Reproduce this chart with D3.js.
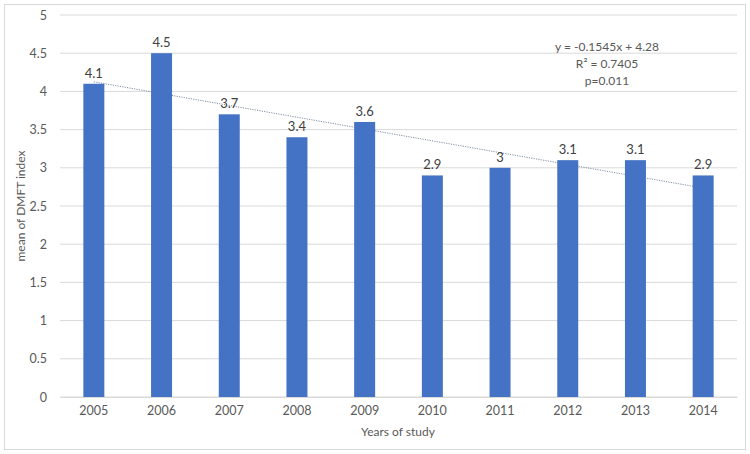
<!DOCTYPE html>
<html><head><meta charset="utf-8">
<script src="https://cdn.jsdelivr.net/npm/d3@7"></script>
<style>body{margin:0;background:#fff}text{font-family:Lato,"Open Sans",sans-serif;fill:#595959}</style>
</head><body><svg id="c" width="750" height="454"></svg>
<script>
const years = ["2005","2006","2007","2008","2009","2010","2011","2012","2013","2014"];
const dmft = [4.1,4.5,3.7,3.4,3.6,2.9,3,3.1,3.1,2.9];
const yTicks = [0,0.5,1,1.5,2,2.5,3,3.5,4,4.5,5];
const trendSlope = -0.1545, trendIntercept = 4.28;
const eqLines = ["y = -0.1545x + 4.28","R² = 0.7405","p=0.011"];

const svg = d3.select("#c");
svg.append("rect").attr("x",4.5).attr("y",4.5).attr("width",741).attr("height",445)
  .attr("fill","#fff").attr("stroke","#d9d9d9");

const x = d3.scaleBand().domain(years).range([60,737]).paddingInner(0.69).paddingOuter(0.345);
const y = d3.scaleLinear().domain([0,5]).range([397,15]);

const g = svg.append("g");
g.selectAll("line.grid").data(yTicks).join("line")
  .attr("x1",60).attr("x2",737).attr("y1",d=>y(d)).attr("y2",d=>y(d))
  .attr("stroke","#d9d9d9").attr("stroke-width",1);

const yAxis = d3.axisLeft(y).tickValues(yTicks).tickSize(0).tickPadding(13).tickFormat(d=>String(d));
const ya = svg.append("g").attr("transform","translate(60,0)").call(yAxis);
ya.select(".domain").remove();
ya.selectAll("text").attr("font-size",12.5).style("fill","#595959");

const xAxis = d3.axisBottom(x).tickSize(0).tickPadding(9);
const xa = svg.append("g").attr("transform","translate(0,397)").call(xAxis);
xa.select(".domain").attr("stroke","#d9d9d9");
xa.selectAll("text").attr("font-size",12.5).style("fill","#595959");

// trendline (behind bars)
const cx = i => x(years[i]) + x.bandwidth()/2;
svg.append("line")
  .attr("x1",cx(0)).attr("y1",y(trendSlope*1+trendIntercept))
  .attr("x2",cx(years.length-1)).attr("y2",y(trendSlope*years.length+trendIntercept))
  .attr("stroke","#7f8fa6").attr("stroke-width",1).attr("stroke-dasharray","1.2,1.2");

svg.selectAll("rect.bar").data(dmft).join("rect").attr("class","bar")
  .attr("x",(d,i)=>x(years[i])).attr("width",x.bandwidth())
  .attr("y",d=>y(d)).attr("height",d=>y(0)-y(d)).attr("fill","#4472C4");

svg.selectAll("text.lbl").data(dmft).join("text").attr("class","lbl")
  .attr("x",(d,i)=>cx(i)).attr("y",d=>y(d)-6).attr("text-anchor","middle")
  .attr("font-size",13).style("fill","#404040").text(d=>String(d));

svg.selectAll("text.eq").data(eqLines).join("text").attr("class","eq")
  .attr("x",607).attr("y",(d,i)=>51+i*17).attr("text-anchor","middle")
  .attr("font-size",12).style("fill","#595959").text(d=>d);

svg.append("text").attr("x",398).attr("y",436).attr("text-anchor","middle")
  .attr("font-size",12).text("Years of study");
svg.append("text").attr("transform","translate(25,206) rotate(-90)").attr("text-anchor","middle")
  .attr("font-size",12).text("mean of DMFT index");
</script></body></html>
